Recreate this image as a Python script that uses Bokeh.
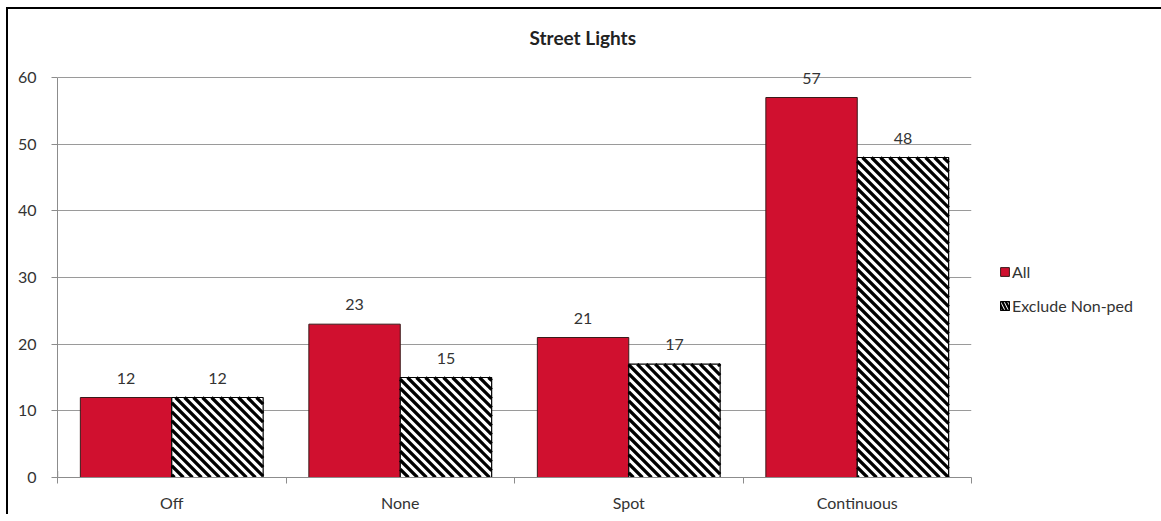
import math
from bokeh.plotting import figure
from bokeh.models import ColumnDataSource, FixedTicker, Legend, LegendItem, Title
from bokeh.core.properties import value
from bokeh.embed import file_html
from bokeh.resources import INLINE

categories = ["Off", "None", "Spot", "Continuous"]
series_names = ["All", "Exclude Non-ped"]
all_vals = [12, 23, 21, 57]
excl_vals = [12, 15, 17, 48]
y_ticks = [0, 10, 20, 30, 40, 50, 60]

FONT = "Lato"
FRAME_W, FRAME_H = 914, 420
Y_MAX = 63
BAR_W = 0.4
centers = [i + 0.5 for i in range(len(categories))]
src_all = ColumnDataSource(dict(x=[c - 0.2 for c in centers], top=all_vals,
                                lab=[str(v) for v in all_vals]))
src_ex = ColumnDataSource(dict(x=[c + 0.2 for c in centers], top=excl_vals,
                               lab=[str(v) for v in excl_vals]))

p = figure(width=1154, height=513, output_backend="svg", toolbar_location=None,
           x_range=(0, len(categories)), y_range=(0, Y_MAX),
           frame_width=FRAME_W, frame_height=FRAME_H,
           min_border_left=49, min_border_top=48, min_border_bottom=37, min_border_right=10)
p.margin = (7, 0, 0, 6)
p.styles = {"border-left": "2px solid black", "border-top": "2px solid black"}
p.outline_line_color = None
p.background_fill_color = "white"
p.border_fill_color = "white"

# grid
p.xgrid.visible = False
p.ygrid.ticker = FixedTicker(ticks=y_ticks)
p.ygrid.grid_line_color = "#9a9a9a"
p.ygrid.grid_line_width = 1

# y axis
p.yaxis.ticker = FixedTicker(ticks=y_ticks)
p.yaxis.bounds = (0, 60)
p.yaxis.axis_line_color = "#8c8c8c"
p.yaxis.major_tick_line_color = "#8c8c8c"
p.yaxis.major_tick_out = 6
p.yaxis.major_tick_in = 0
p.yaxis.minor_tick_line_color = None
p.yaxis.major_label_text_font = FONT
p.yaxis.major_label_text_font_size = "16px"
p.yaxis.major_label_text_color = "#333333"
p.yaxis.major_label_standoff = 15

# x axis
p.xaxis.ticker = FixedTicker(ticks=centers, minor_ticks=list(range(len(categories) + 1)))
p.xaxis.major_label_overrides = {c: n for c, n in zip(centers, categories)}
p.xaxis.axis_line_color = "#8c8c8c"
p.xaxis.major_tick_line_color = None
p.xaxis.minor_tick_line_color = "#8c8c8c"
p.xaxis.minor_tick_out = 6
p.xaxis.minor_tick_in = 0
p.xaxis.major_label_text_font = FONT
p.xaxis.major_label_text_font_size = "16px"
p.xaxis.major_label_text_color = "#333333"
p.xaxis.major_label_standoff = 9

RED = "#D0102F"
r_all = p.vbar(x="x", top="top", width=BAR_W, bottom=0, source=src_all,
               fill_color=RED, line_color="#3a1a1a", line_width=1)
p.vbar(x="x", top="top", width=BAR_W, bottom=0, source=src_ex,
       fill_color="white", line_color=None)

# 45-degree "\" hatch lines clipped to each hatched bar (computed in pixel space)
sx = FRAME_W / len(categories)
sy = FRAME_H / Y_MAX
PERIOD = 9.0
hx0, hy0, hx1, hy1 = [], [], [], []
for xc, top in zip(src_ex.data["x"], excl_vals):
    X0, X1 = (xc - BAR_W / 2) * sx, (xc + BAR_W / 2) * sx
    Y0, Y1 = 0.0, top * sy
    k = math.floor((X0 + Y0) / PERIOD)
    while k * PERIOD <= X1 + Y1:
        c = k * PERIOD
        lo, hi = max(X0, c - Y1), min(X1, c - Y0)
        if hi - lo > 0.5:
            hx0.append(lo / sx); hy0.append((c - lo) / sy)
            hx1.append(hi / sx); hy1.append((c - hi) / sy)
        k += 1
p.segment(x0=hx0, y0=hy0, x1=hx1, y1=hy1, line_color="black", line_width=3.2)

r_ex = p.vbar(x="x", top="top", width=BAR_W, bottom=0, source=src_ex,
              fill_color=None, line_color="black", line_width=1.2)

# legend swatch for the hatched series: a single bar placed outside the visible x range
r_ex_leg = p.vbar(x=[-5], top=[1], width=BAR_W, fill_color="white", line_color="black",
                  line_width=1.2, hatch_pattern="\\", hatch_color="black",
                  hatch_weight=2.2, hatch_scale=7)

for s in (src_all, src_ex):
    p.text(x="x", y="top", text="lab", source=s, text_align="center",
           text_baseline="bottom", y_offset=-14, text_font=value(FONT),
           text_font_size="16px", text_color="#333333")

legend = Legend(items=[LegendItem(label=series_names[0], renderers=[r_all], index=0),
                       LegendItem(label=series_names[1], renderers=[r_ex_leg], index=0)],
                location=(28, 162), border_line_color=None, background_fill_alpha=0,
                label_text_font=FONT, label_text_font_size="16px", label_text_color="#333333",
                glyph_width=11, glyph_height=11, label_standoff=2, spacing=14, padding=0,
                margin=0, label_height=20)
p.add_layout(legend, "right")

t = Title(text="Street Lights", align="left", offset=472, text_font=FONT,
          text_font_size="19px", text_font_style="bold", text_color="#222222", standoff=18)
p.add_layout(t, "above")

open("out.html", "w").write(file_html(p, INLINE))
